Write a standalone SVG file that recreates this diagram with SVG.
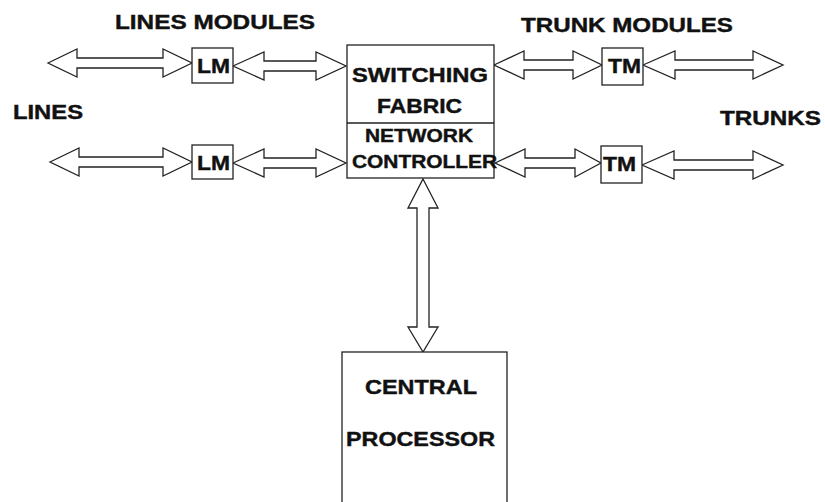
<svg xmlns="http://www.w3.org/2000/svg" width="825" height="502" viewBox="0 0 825 502">
<style>
.box{fill:#fff;stroke:#222;stroke-width:1.3}
.arr{fill:#fff;stroke:#222;stroke-width:1.3;stroke-linejoin:miter}
.t{font-family:"Liberation Sans",Arial,sans-serif;font-weight:bold;fill:#111;stroke:#111;stroke-width:0.4}
.lab{font-size:19.5px}
.mod{font-size:20px}
.sf{font-size:19.5px}
.nc{font-size:17.5px}
.cp{font-size:19.5px}
</style>
<rect width="825" height="502" fill="#fff"/>
<g id="labels">
<text class="t lab" x="115" y="29" textLength="200" lengthAdjust="spacingAndGlyphs">LINES MODULES</text>
<text class="t lab" x="13" y="119" textLength="70" lengthAdjust="spacingAndGlyphs">LINES</text>
<text class="t lab" x="521" y="32" textLength="212" lengthAdjust="spacingAndGlyphs">TRUNK MODULES</text>
<text class="t lab" x="720" y="125" textLength="101" lengthAdjust="spacingAndGlyphs">TRUNKS</text>
</g>
<g id="connectors">
<path class="arr" d="M48,63 L77,49 L77,58 L163,58 L163,49 L192,63 L163,77 L163,68 L77,68 L77,77 Z"/>
<path class="arr" d="M233,66 L264,52 L264,61 L316,61 L316,52 L346,66 L316,80 L316,71 L264,71 L264,80 Z"/>
<path class="arr" d="M50,162 L79,148 L79,157 L163,157 L163,148 L192,162 L163,176 L163,167 L79,167 L79,176 Z"/>
<path class="arr" d="M233,163 L264,149 L264,158 L316,158 L316,149 L346,163 L316,177 L316,168 L264,168 L264,177 Z"/>
<path class="arr" d="M494,65 L524,51 L524,60 L573,60 L573,51 L602,65 L573,79 L573,70 L524,70 L524,79 Z"/>
<path class="arr" d="M643,65 L675,51 L675,60 L753,60 L753,51 L783,65 L753,79 L753,70 L675,70 L675,79 Z"/>
<path class="arr" d="M495,163 L525,149 L525,158 L575,158 L575,149 L601,163 L575,177 L575,168 L525,168 L525,177 Z"/>
<path class="arr" d="M642,165 L674,151 L674,160 L753,160 L753,151 L783,165 L753,179 L753,170 L674,170 L674,179 Z"/>
<path class="arr" d="M423,179 L438,208 L429,208 L429,327 L438,327 L423,352 L408,327 L417,327 L417,208 L408,208 Z"/>
</g>
<g id="lm1">
<rect class="box" x="192" y="48" width="41" height="35"/>
<text class="t mod" x="197" y="73" textLength="33" lengthAdjust="spacingAndGlyphs">LM</text>
</g>
<g id="lm2">
<rect class="box" x="192" y="145" width="41" height="34"/>
<text class="t mod" x="197" y="170" textLength="33" lengthAdjust="spacingAndGlyphs">LM</text>
</g>
<g id="tm1">
<rect class="box" x="602" y="48" width="41" height="37"/>
<text class="t mod" x="608" y="73" textLength="33" lengthAdjust="spacingAndGlyphs">TM</text>
</g>
<g id="tm2">
<rect class="box" x="601" y="146" width="41" height="37"/>
<text class="t mod" x="603" y="171" textLength="33" lengthAdjust="spacingAndGlyphs">TM</text>
</g>
<g id="switch">
<rect class="box" x="347" y="45" width="147" height="133"/>
<line x1="347" y1="123" x2="494" y2="123" stroke="#222" stroke-width="1.3"/>
<text class="t sf" x="352" y="82" textLength="136" lengthAdjust="spacingAndGlyphs">SWITCHING</text>
<text class="t sf" x="377" y="113" textLength="85" lengthAdjust="spacingAndGlyphs">FABRIC</text>
<text class="t nc" x="365" y="142" textLength="108" lengthAdjust="spacingAndGlyphs">NETWORK</text>
<text class="t nc" x="352" y="168" textLength="145" lengthAdjust="spacingAndGlyphs">CONTROLLER</text>
</g>
<g id="cpu">
<rect class="box" x="342" y="352" width="165" height="152"/>
<text class="t cp" x="365" y="394" textLength="112" lengthAdjust="spacingAndGlyphs">CENTRAL</text>
<text class="t cp" x="346" y="446" textLength="149" lengthAdjust="spacingAndGlyphs">PROCESSOR</text>
</g>
</svg>
